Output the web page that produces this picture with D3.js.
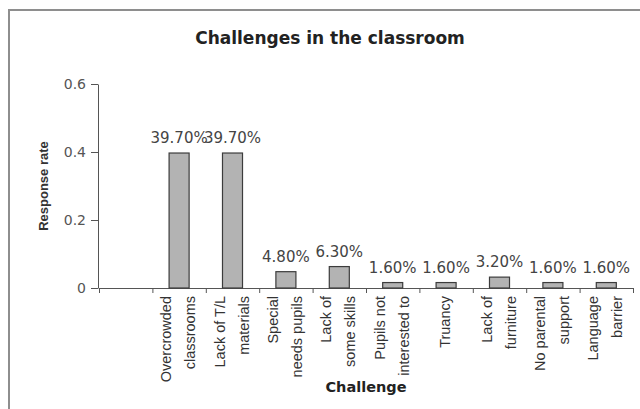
<!DOCTYPE html>
<html lang="en">
<head>
    <meta charset="UTF-8">
    <title>Challenges in the classroom</title>
    <style>
        body { margin: 0; background: #fff; }
        svg { display: block; }
    </style>
    <script src="https://d3js.org/d3.v7.min.js"></script>
</head>
<body>
    <div id="chart"></div>
    <script>
        // first slot is blank in the original chart
        const categories = ["", "Overcrowded classrooms", "Lack of T/L materials", "Special needs pupils", "Lack of some skills",
            "Pupils not interested to", "Truancy", "Lack of furniture", "No parental support", "Language barrier"]
        const labelLines = [[], ["Overcrowded", "classrooms"], ["Lack of T/L", "materials"], ["Special", "needs pupils"],
            ["Lack of", "some skills"], ["Pupils not", "interested to"], ["Truancy"], ["Lack of", "furniture"],
            ["No parental", "support"], ["Language", "barrier"]]
        const values = [null, 0.397, 0.397, 0.048, 0.063, 0.016, 0.016, 0.032, 0.016, 0.016]
        const yTicks = [0, 0.2, 0.4, 0.6]

        const boxWidth = 640, boxHeight = 409
        const plotLeft = 99, plotRight = 633, plotTop = 84, plotBottom = 288

        const svg = d3.select("#chart").append("svg").attr("width", boxWidth).attr("height", boxHeight)

        // outer chart frame (right/bottom edges fall outside the picture)
        svg.append("rect")
            .attr("x", 9).attr("y", 10).attr("width", 700).attr("height", 500)
            .attr("fill", "#fff").attr("stroke", "#8e8e8e").attr("stroke-width", 2)

        svg.append("text")
            .attr("x", 330).attr("y", 44).attr("text-anchor", "middle")
            .attr("font-family", "DejaVu Sans").attr("font-weight", "bold").attr("font-size", 17)
            .attr("fill", "#222").text("Challenges in the classroom")

        const x = d3.scaleBand().domain(categories).range([plotLeft, plotRight]).padding(0)
        const xEdges = d3.scaleLinear().domain([0, categories.length]).range([plotLeft, plotRight])
        const y = d3.scaleLinear().domain([0, 0.6]).range([plotBottom, plotTop])

        const yAxis = svg.append("g").attr("transform", `translate(${plotLeft - 1},0)`)
            .call(d3.axisLeft(y).tickValues(yTicks).tickSize(7).tickSizeOuter(0).tickPadding(5).tickFormat(d => String(d)))
        yAxis.selectAll("path, line").attr("stroke", "#555")
        yAxis.selectAll("text").attr("font-family", "DejaVu Sans").attr("font-size", 14).attr("fill", "#555")

        const xAxis = svg.append("g").attr("transform", `translate(0,${plotBottom})`)
            .call(d3.axisBottom(xEdges).tickValues(d3.range(categories.length + 1)).tickSize(5).tickSizeOuter(0).tickFormat(""))
        xAxis.selectAll("path, line").attr("stroke", "#555")

        const barW = x.bandwidth() * 0.375
        const rows = categories.map((c, i) => ({ name: c, value: values[i], lines: labelLines[i] }))

        svg.selectAll(".bar").data(rows.filter(d => d.value != null)).enter().append("rect")
            .attr("class", "bar")
            .attr("x", d => x(d.name) + (x.bandwidth() - barW) / 2)
            .attr("y", d => y(d.value))
            .attr("width", barW)
            .attr("height", d => y(0) - y(d.value))
            .attr("fill", "#b3b3b3").attr("stroke", "#3c3c3c").attr("stroke-width", 1.2)

        svg.selectAll(".valueLabel").data(rows.filter(d => d.value != null)).enter().append("text")
            .attr("class", "valueLabel")
            .attr("x", d => x(d.name) + x.bandwidth() / 2)
            .attr("y", d => y(d.value) - 10)
            .attr("text-anchor", "middle")
            .attr("font-family", "DejaVu Sans").attr("font-size", 15).attr("fill", "#444")
            .text(d => d3.format(".2%")(d.value))

        const catLabels = svg.selectAll(".catLabel").data(rows).enter().append("text")
            .attr("class", "catLabel")
            .attr("transform", d => `translate(${x(d.name) + x.bandwidth() / 2},${plotBottom + 8}) rotate(-90)`)
            .attr("text-anchor", "end")
            .attr("font-family", "Liberation Sans, Arial").attr("font-size", 14.5).attr("fill", "#333")
        catLabels.selectAll("tspan").data(d => d.lines.map((t, i) => ({ t, off: (i - (d.lines.length - 1) / 2) * 24 + 4 })))
            .enter().append("tspan")
            .attr("x", 0).attr("y", d => d.off)
            .text(d => d.t)

        svg.append("text")
            .attr("x", (plotLeft + plotRight) / 2).attr("y", 392).attr("text-anchor", "middle")
            .attr("font-family", "DejaVu Sans").attr("font-weight", "bold").attr("font-size", 14.5)
            .attr("fill", "#222").text("Challenge")

        svg.append("text")
            .attr("transform", `translate(48,${(plotTop + plotBottom) / 2}) rotate(-90)`)
            .attr("text-anchor", "middle")
            .attr("font-family", "Liberation Sans, Arial").attr("font-weight", "bold").attr("font-size", 13)
            .attr("fill", "#333").text("Response rate")
    </script>
</body>
</html>
